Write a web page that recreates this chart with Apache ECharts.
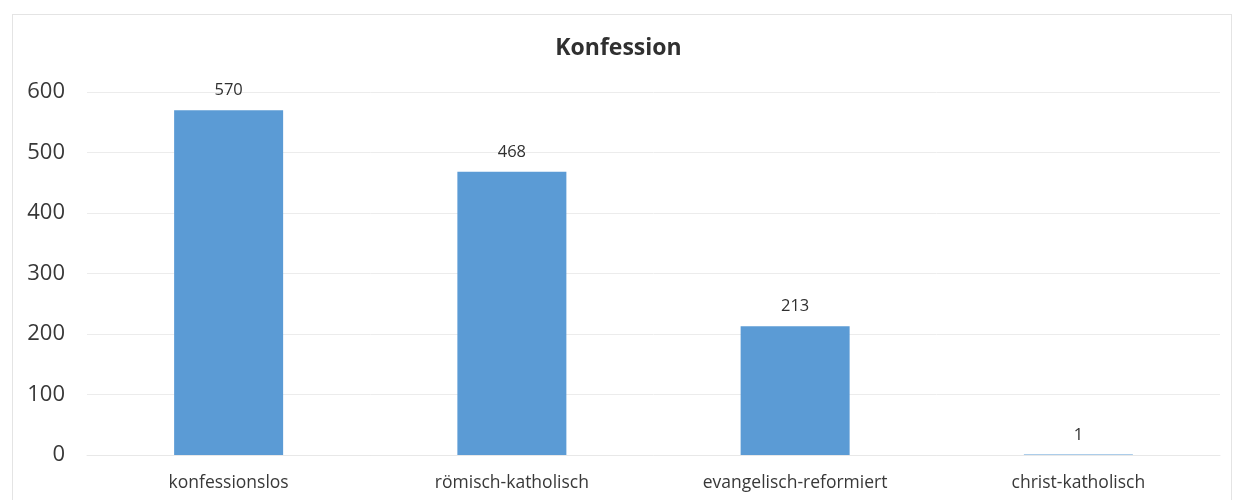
<!DOCTYPE html>
<html>
<head>
<meta charset="utf-8">
<script src="https://cdn.jsdelivr.net/npm/echarts@6/dist/echarts.min.js"></script>
<style>
html,body{margin:0;padding:0;background:#fff;}
#frame{position:absolute;left:12px;top:14px;width:1220px;height:490px;border:1px solid #e4e4e4;box-sizing:border-box;}
#chart{position:absolute;left:0;top:0;width:1237px;height:500px;}
</style>
</head>
<body>
<div id="frame"></div>
<div id="chart"></div>
<script>
const categories = ['konfessionslos', 'römisch-katholisch', 'evangelisch-reformiert', 'christ-katholisch'];
const values = [570, 468, 213, 1];
const titleText = 'Konfession';
const yMin = 0, yMax = 600, yStep = 100;

const chart = echarts.init(document.getElementById('chart'));
chart.setOption({
  animation: false,
  backgroundColor: 'transparent',
  title: {
    text: titleText,
    left: 'center',
    top: 32,
    textStyle: {fontFamily: 'Open Sans', fontWeight: 'bold', fontSize: 23, color: '#303030'}
  },
  grid: {left: 87, right: 17, top: 92, bottom: 45, containLabel: false},
  xAxis: {
    type: 'category',
    data: categories,
    axisLine: {show: true, lineStyle: {color: '#e8e8e8'}},
    axisTick: {show: false},
    axisLabel: {fontFamily: 'Open Sans', fontSize: 17.5, color: '#383838', margin: 19}
  },
  yAxis: {
    type: 'value',
    min: yMin, max: yMax, interval: yStep,
    axisLine: {show: false},
    axisTick: {show: false},
    splitLine: {lineStyle: {color: '#ececec'}},
    axisLabel: {fontFamily: 'Open Sans', fontSize: 22, color: '#383838', margin: 22}
  },
  series: [{
    type: 'bar',
    data: values,
    barWidth: 109,
    itemStyle: {color: '#5b9bd5'},
    label: {show: true, position: 'top', distance: 11, fontFamily: 'Open Sans', fontSize: 16.5, color: '#303030'}
  }]
});
</script>
</body>
</html>
